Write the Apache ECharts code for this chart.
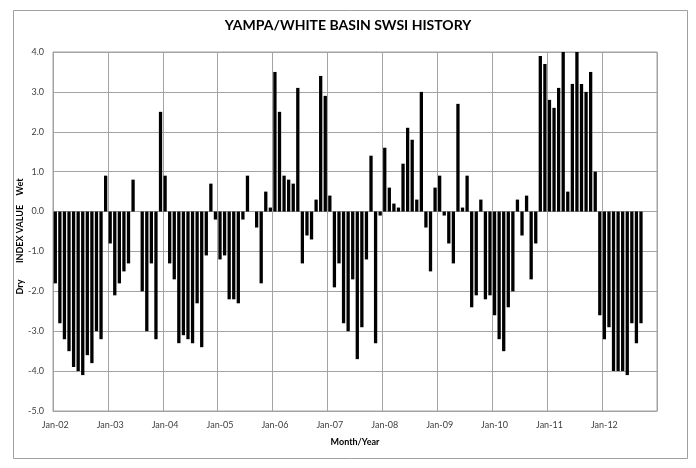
<!DOCTYPE html>
<html>
<head>
<meta charset="utf-8">
<script src="https://cdn.jsdelivr.net/npm/echarts@6/dist/echarts.min.js"></script>
<style>
html, body { margin: 0; padding: 0; background: #fff; }
#chart { width: 696px; height: 468px; }
</style>
</head>
<body>
<div id="chart"></div>
<script>
'use strict';

// month slots run Jan-02 .. Dec-12, data ends Sep-12
const monthNames = ['Jan', 'Feb', 'Mar', 'Apr', 'May', 'Jun', 'Jul', 'Aug', 'Sep', 'Oct', 'Nov', 'Dec'];
const yearLabels = ['02', '03', '04', '05', '06', '07', '08', '09', '10', '11', '12'];

const swsi2002 = [-1.8, -2.8, -3.2, -3.5, -3.9, -4.0, -4.1, -3.6, -3.8, -3.0, -3.2, 0.9];
const swsi2003 = [-0.8, -2.1, -1.8, -1.5, -1.3, 0.8, 0, -2.0, -3.0, -1.3, -3.2, 2.5];
const swsi2004 = [0.9, -1.3, -1.7, -3.3, -3.1, -3.2, -3.3, -2.3, -3.4, -1.1, 0.7, -0.2];
const swsi2005 = [-1.2, -1.1, -2.2, -2.2, -2.3, -0.2, 0.9, 0, -0.4, -1.8, 0.5, 0.1];
const swsi2006 = [3.5, 2.5, 0.9, 0.8, 0.7, 3.1, -1.3, -0.6, -0.7, 0.3, 3.4, 2.9];
const swsi2007 = [0.4, -1.9, -1.3, -2.8, -3.0, -1.7, -3.7, -2.9, -1.2, 1.4, -3.3, -0.1];
const swsi2008 = [1.6, 0.6, 0.2, 0.1, 1.2, 2.1, 1.8, 0.3, 3.0, -0.4, -1.5, 0.6];
const swsi2009 = [0.9, -0.1, -0.8, -1.3, 2.7, 0.1, 0.9, -2.4, -2.1, 0.3, -2.2, -2.1];
const swsi2010 = [-2.6, -3.2, -3.5, -2.4, -2.0, 0.3, -0.6, 0.4, -1.7, -0.8, 3.9, 3.7];
const swsi2011 = [2.8, 2.6, 3.1, 4.0, 0.5, 3.2, 4.0, 3.2, 3.0, 3.5, 1.0, -2.6];
const swsi2012 = [-3.2, -2.9, -4.0, -4.0, -4.0, -4.1, -2.8, -3.3, -2.8];

const yMin = -5;
const yMax = 4;
const yStep = 1;

const categories = [];
yearLabels.forEach(y => monthNames.forEach(m => categories.push(m + '-' + y)));

const values = [].concat(swsi2002, swsi2003, swsi2004, swsi2005, swsi2006, swsi2007,
    swsi2008, swsi2009, swsi2010, swsi2011, swsi2012);

const font = 'Lato, "Open Sans", sans-serif';
const gridColor = '#a3a3a3';

const chart = echarts.init(document.getElementById('chart'), null, {renderer: 'canvas'});

chart.setOption({
    animation: false,
    backgroundColor: '#fff',
    title: {
        text: 'YAMPA/WHITE BASIN SWSI HISTORY',
        left: 'center',
        top: 13,
        textStyle: {fontFamily: font, fontSize: 14, fontWeight: 'bold', color: '#000'}
    },
    grid: {
        left: 53, right: 39, top: 52, bottom: 57,
        show: true, borderColor: gridColor, borderWidth: 1
    },
    xAxis: {
        type: 'category',
        data: categories,
        boundaryGap: true,
        name: 'Month/Year',
        nameLocation: 'middle',
        nameGap: 27,
        nameTextStyle: {fontFamily: font, fontSize: 9, fontWeight: 'bold', color: '#000'},
        axisLine: {onZero: false, lineStyle: {color: gridColor}},
        axisTick: {show: false},
        axisLabel: {
            interval: 11,
            margin: 10,
            fontFamily: font, fontSize: 9, color: '#404040'
        },
        splitLine: {show: true, interval: 11, lineStyle: {color: gridColor, width: 1}}
    },
    yAxis: {
        type: 'value',
        min: yMin,
        max: yMax,
        interval: yStep,
        axisLine: {show: true, lineStyle: {color: gridColor}},
        axisTick: {show: false},
        axisLabel: {
            margin: 9,
            fontFamily: font, fontSize: 9, color: '#404040',
            formatter: v => v.toFixed(1)
        },
        splitLine: {show: true, lineStyle: {color: gridColor, width: 1}}
    },
    graphic: [
        {type: 'rect', left: 11, top: 8, shape: {width: 674, height: 448},
            style: {fill: 'none', stroke: '#a0a0a0', lineWidth: 1}, silent: true},
        {type: 'text', x: 20, y: 187, rotation: Math.PI / 2,
            style: {text: 'Wet', fontFamily: font, fontSize: 9, fontWeight: 'bold', fill: '#000',
                align: 'center', verticalAlign: 'middle'}},
        {type: 'text', x: 20, y: 234, rotation: Math.PI / 2,
            style: {text: 'INDEX VALUE', fontFamily: font, fontSize: 9, fontWeight: 'bold', fill: '#000',
                align: 'center', verticalAlign: 'middle'}},
        {type: 'text', x: 20, y: 287, rotation: Math.PI / 2,
            style: {text: 'Dry', fontFamily: font, fontSize: 9, fontWeight: 'bold', fill: '#000',
                align: 'center', verticalAlign: 'middle'}}
    ],
    series: [{
        type: 'bar',
        data: values,
        barWidth: 3.3,
        itemStyle: {color: '#000'},
        clip: true
    }]
});
</script>
</body>
</html>
